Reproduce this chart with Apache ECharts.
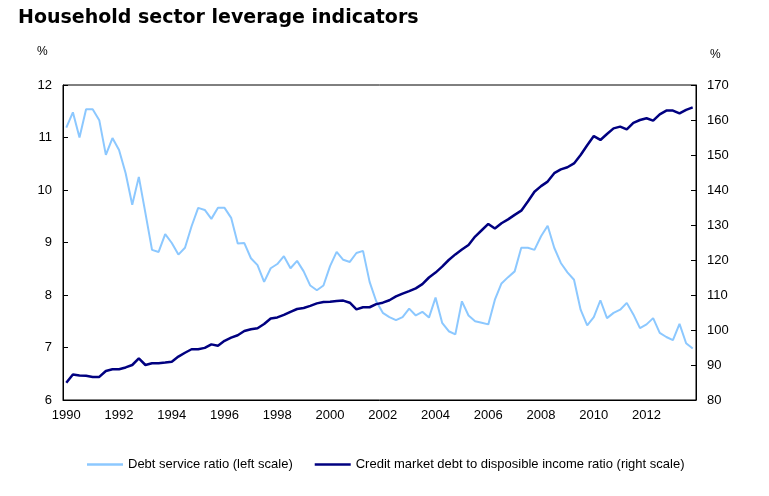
<!DOCTYPE html>
<html>
<head>
<meta charset="utf-8">
<script src="https://cdn.jsdelivr.net/npm/echarts@6/dist/echarts.min.js"></script>
<style>html,body{margin:0;padding:0;background:#fff;}#c{width:769px;height:496px;}</style>
</head>
<body>
<div id="c"></div>
<script>
// Quarterly categories 1990Q1 .. 2013Q4
const years = [1990,1991,1992,1993,1994,1995,1996,1997,1998,1999,2000,2001,2002,2003,2004,2005,2006,2007,2008,2009,2010,2011,2012,2013];
const quarters = ['Q1','Q2','Q3','Q4'];
const categories = [];
years.forEach(y => quarters.forEach(q => categories.push(y + q)));

// Debt service ratio (left scale, %)
const debtService = [
  11.19, 11.48, 11.00, 11.54, 11.54, 11.33, 10.67, 10.99,
  10.76, 10.32, 9.72, 10.25, 9.56, 8.86, 8.82, 9.16,
  8.99, 8.77, 8.90, 9.31, 9.66, 9.62, 9.45, 9.66,
  9.66, 9.47, 8.98, 8.99, 8.70, 8.57, 8.25, 8.51,
  8.59, 8.74, 8.51, 8.65, 8.45, 8.18, 8.09, 8.18,
  8.55, 8.82, 8.67, 8.63, 8.80, 8.84, 8.25, 7.88,
  7.66, 7.58, 7.52, 7.58, 7.74, 7.61, 7.68, 7.57,
  7.95, 7.47, 7.31, 7.25, 7.88, 7.61, 7.50, 7.47,
  7.44, 7.91, 8.22, 8.34, 8.45, 8.90, 8.90, 8.86,
  9.12, 9.32, 8.90, 8.61, 8.43, 8.29, 7.72, 7.42,
  7.58, 7.90, 7.56, 7.66, 7.72, 7.85, 7.63, 7.37,
  7.44, 7.56, 7.28, 7.20, 7.14, 7.45, 7.08, 6.98
];

// Credit market debt to disposable income ratio (right scale, %)
const creditDebt = [
  84.9, 87.3, 87.0, 86.9, 86.6, 86.6, 88.3, 88.8,
  88.8, 89.3, 90.0, 91.9, 90.0, 90.5, 90.5, 90.7,
  90.95, 92.4, 93.5, 94.5, 94.5, 94.9, 95.9, 95.5,
  96.9, 97.8, 98.5, 99.7, 100.2, 100.5, 101.7, 103.3,
  103.6, 104.3, 105.2, 106.0, 106.3, 106.9, 107.6, 108.0,
  108.1, 108.3, 108.4, 107.8, 105.9, 106.5, 106.5, 107.4,
  107.8, 108.5, 109.6, 110.4, 111.1, 111.9, 113.1, 115.0,
  116.4, 118.1, 120.0, 121.6, 123.0, 124.3, 126.7, 128.5,
  130.3, 129.0, 130.5, 131.6, 132.9, 134.1, 136.7, 139.5,
  141.1, 142.4, 144.8, 145.9, 146.5, 147.6, 150.0, 152.8,
  155.4, 154.3, 156.0, 157.6, 158.1, 157.3, 159.2, 160.0,
  160.5, 159.8, 161.6, 162.7, 162.7, 161.9, 162.9, 163.6
];

const seriesNames = ['Debt service ratio (left scale)', 'Credit market debt to disposible income ratio (right scale)'];
const titleText = 'Household sector leverage indicators';

const chart = echarts.init(document.getElementById('c'), null, {renderer: 'canvas'});
const axisFont = 'Liberation Sans, Arial, sans-serif';
chart.setOption({
  animation: false,
  backgroundColor: '#fff',
  title: {
    text: titleText, left: 13, top: 4,
    textStyle: {fontFamily: 'DejaVu Sans', fontWeight: 'bold', fontSize: 19, color: '#000'}
  },
  graphic: [
    {type: 'text', left: 37, top: 46, style: {text: '%', font: '12px Liberation Sans, Arial', fill: '#000'}},
    {type: 'text', left: 710, top: 49, style: {text: '%', font: '12px Liberation Sans, Arial', fill: '#000'}}
  ],
  grid: {left: 63, right: 73, top: 85, bottom: 96, show: true, borderColor: '#000', borderWidth: 1, backgroundColor: 'transparent'},
  legend: {
    left: 82, top: 453, itemWidth: 36, itemHeight: 14, itemGap: 22,
    textStyle: {fontFamily: axisFont, fontSize: 13, color: '#000'},
    data: seriesNames.map(n => ({name: n, icon: 'path://M0,0 L36,0 L36,2.5 L0,2.5 Z'}))
  },
  xAxis: {
    type: 'category', data: categories, boundaryGap: true,
    axisLine: {lineStyle: {color: '#000', width: 1}},
    axisTick: {inside: true, interval: 3, length: 5, lineStyle: {color: '#000'}},
    axisLabel: {interval: 7, margin: 9, color: '#000', fontFamily: axisFont, fontSize: 13, formatter: v => v.slice(0, 4)},
    splitLine: {show: false}
  },
  yAxis: [
    {type: 'value', min: 6, max: 12, interval: 1, position: 'left',
      axisLine: {show: true, lineStyle: {color: '#000'}},
      axisTick: {show: true, inside: true, length: 5, lineStyle: {color: '#000'}},
      axisLabel: {margin: 11, color: '#000', fontFamily: axisFont, fontSize: 13},
      splitLine: {show: false}},
    {type: 'value', min: 80, max: 170, interval: 10, position: 'right',
      axisLine: {show: true, lineStyle: {color: '#000'}},
      axisTick: {show: true, inside: true, length: 5, lineStyle: {color: '#000'}},
      axisLabel: {margin: 11, color: '#000', fontFamily: axisFont, fontSize: 13},
      splitLine: {show: false}}
  ],
  series: [
    {name: seriesNames[0], type: 'line', yAxisIndex: 0, data: debtService, symbol: 'none',
      lineStyle: {color: '#8cc8ff', width: 2}, itemStyle: {color: '#8cc8ff'}},
    {name: seriesNames[1], type: 'line', yAxisIndex: 1, data: creditDebt, symbol: 'none',
      lineStyle: {color: '#000080', width: 2.5}, itemStyle: {color: '#000080'}, z: 3}
  ]
});
</script>
</body>
</html>
